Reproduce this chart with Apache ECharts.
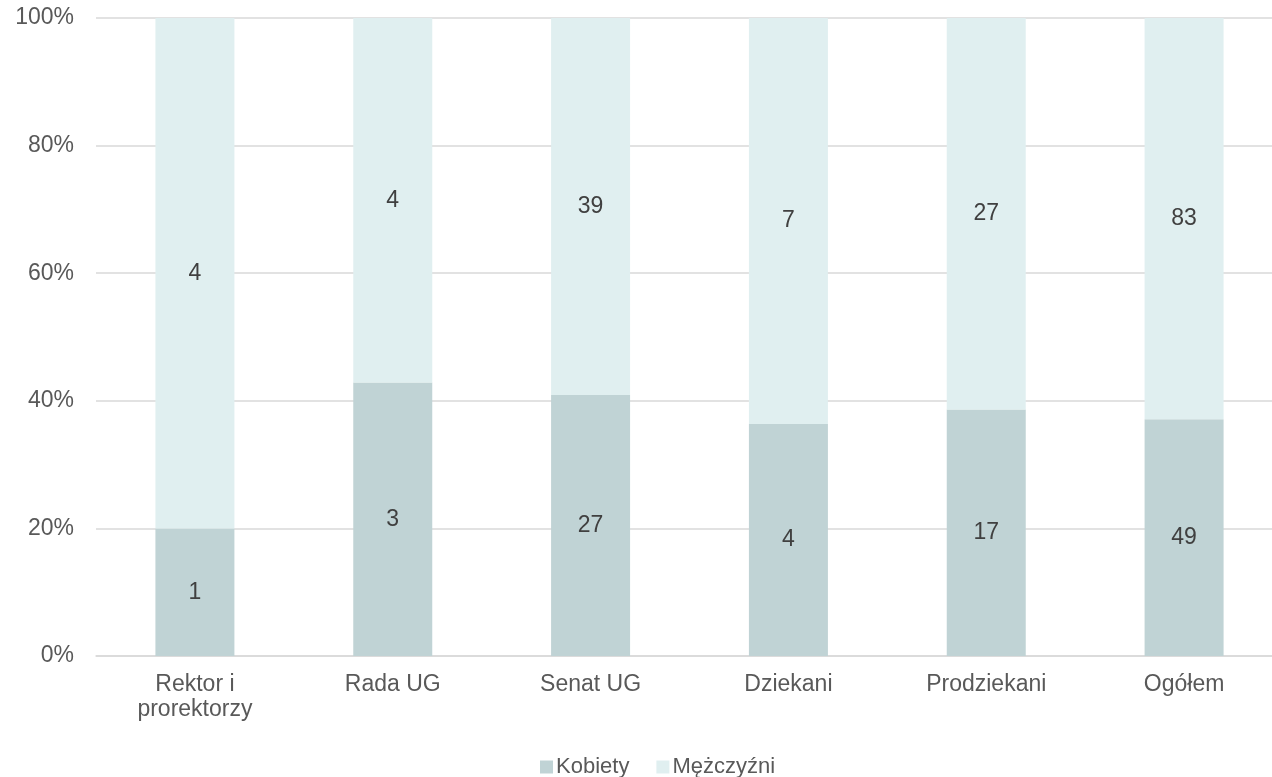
<!DOCTYPE html>
<html>
<head>
<meta charset="utf-8">
<style>
  html, body { margin: 0; padding: 0; background: #ffffff; }
  #chart { width: 1272px; height: 777px; }
</style>
<script src="https://cdn.jsdelivr.net/npm/echarts@6/dist/echarts.min.js"></script>
</head>
<body>
<div id="chart"></div>
<script>
// Composition of university bodies by gender (head counts)
const categories = ['Rektor i\nprorektorzy', 'Rada UG', 'Senat UG', 'Dziekani', 'Prodziekani', 'Ogółem'];
const kobiety = [1, 3, 27, 4, 17, 49];
const mezczyzni = [4, 4, 39, 7, 27, 83];
const seriesNames = ['Kobiety', 'Mężczyźni'];

// 100% stacked: each bar is a share of the category total, labelled with the count
const totals = kobiety.map((v, i) => v + mezczyzni[i]);
const share = (arr) => arr.map((v, i) => ({ value: v / totals[i] * 100, count: v }));

const font = 'Liberation Sans, Arial, sans-serif';
const fs = 23;
const chart = echarts.init(document.getElementById('chart'));

const labelStyle = {
  show: true,
  position: 'inside',
  color: '#404040',
  fontSize: fs,
  fontFamily: font,
  formatter: (p) => p.data.count
};

chart.setOption({
  animation: false,
  textStyle: { fontFamily: font },
  grid: { left: 96, top: 18, width: 1187, height: 638, containLabel: false, outerBoundsMode: 'none' },
  legend: {
    data: seriesNames,
    left: 535,
    top: 751,
    itemWidth: 13,
    itemHeight: 13,
    itemGap: 27,
    icon: 'rect',
    textStyle: { color: '#595959', fontSize: 22, fontFamily: font, padding: [0, 0, 0, -2] }
  },
  xAxis: {
    type: 'category',
    data: categories,
    axisLine: { lineStyle: { color: '#d9d9d9', width: 1.5 } },
    axisTick: { show: false },
    axisLabel: { color: '#595959', fontSize: fs, fontFamily: font, margin: 16, lineHeight: 25 }
  },
  yAxis: {
    type: 'value',
    min: 0,
    max: 100,
    interval: 20,
    axisLine: { show: false },
    axisTick: { show: false },
    splitLine: { lineStyle: { color: '#d9d9d9', width: 1.5 } },
    axisLabel: { color: '#595959', fontSize: fs, fontFamily: font, margin: 22, formatter: '{value}%' }
  },
  series: [
    {
      name: seriesNames[0],
      type: 'bar',
      stack: 'total',
      barWidth: 79,
      itemStyle: { color: '#c0d3d5' },
      label: labelStyle,
      data: share(kobiety)
    },
    {
      name: seriesNames[1],
      type: 'bar',
      stack: 'total',
      barWidth: 79,
      itemStyle: { color: '#e0eff0' },
      label: labelStyle,
      data: share(mezczyzni)
    }
  ]
});
</script>
</body>
</html>
